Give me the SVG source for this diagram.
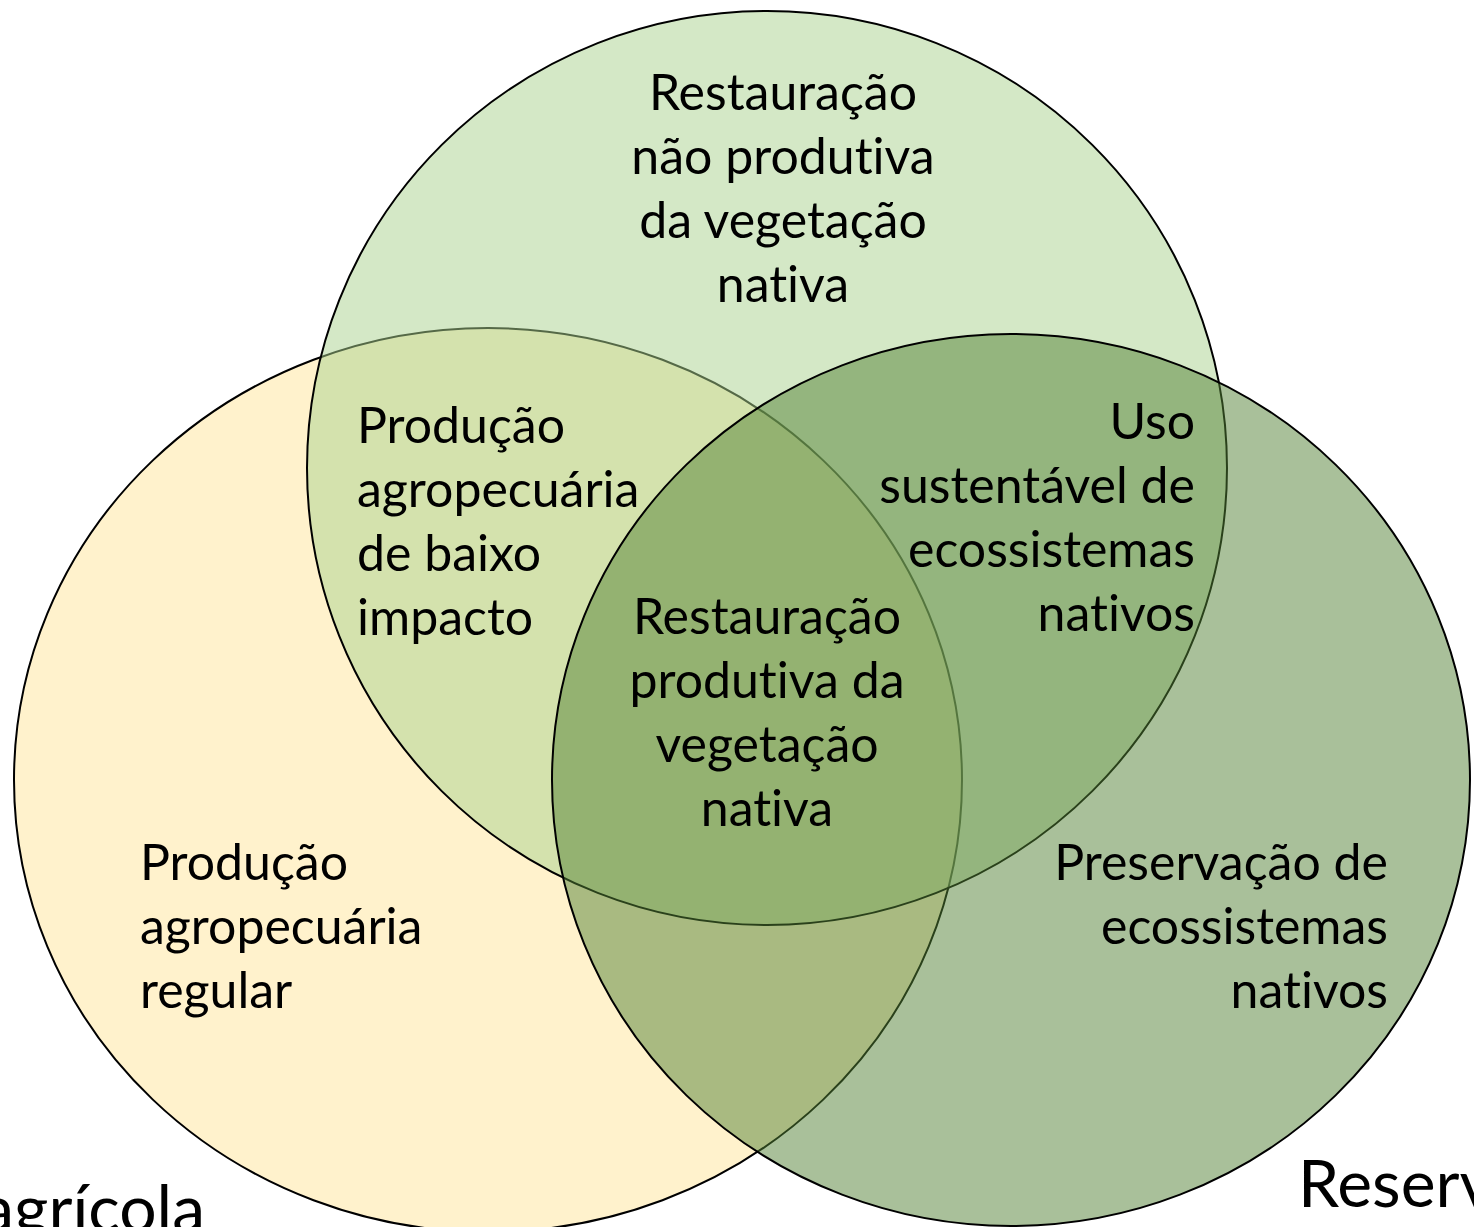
<svg xmlns="http://www.w3.org/2000/svg" width="1474" height="1227" viewBox="0 0 1474 1227">
<style>
.c{stroke:#000;stroke-width:2}
.t{font-family:Lato,"Liberation Sans",sans-serif;font-size:50px;fill:#000;font-variant-ligatures:none}
.big{font-family:Lato,"Liberation Sans",sans-serif;font-size:66px;fill:#000;font-variant-ligatures:none}
.m{text-anchor:middle}
.e{text-anchor:end}
</style>
<rect width="1474" height="1227" fill="#fff"/>
<g id="circle-agricola">
<ellipse class="c" cx="488" cy="780" rx="474" ry="452" fill="#FFF2CC"/>
</g>
<g id="circle-restauracao">
<ellipse class="c" cx="767" cy="468" rx="460" ry="457" fill="#A9D18E" fill-opacity="0.5"/>
</g>
<g id="circle-reserva">
<ellipse class="c" cx="1011" cy="780" rx="459" ry="446" fill="#548235" fill-opacity="0.5"/>
</g>
<g id="label-top" class="t m">
<text x="783" y="110">Restauração</text>
<text x="783" y="174">não produtiva</text>
<text x="783" y="238">da vegetação</text>
<text x="783" y="302">nativa</text>
</g>
<g id="label-top-left" class="t">
<text x="357" y="443">Produção</text>
<text x="357" y="507">agropecuária</text>
<text x="357" y="571">de baixo</text>
<text x="357" y="635">impacto</text>
</g>
<g id="label-top-right" class="t e">
<text x="1195" y="439">Uso</text>
<text x="1195" y="503">sustentável de</text>
<text x="1195" y="567">ecossistemas</text>
<text x="1195" y="631">nativos</text>
</g>
<g id="label-center" class="t m">
<text x="767" y="634">Restauração</text>
<text x="767" y="698">produtiva da</text>
<text x="767" y="762">vegetação</text>
<text x="767" y="826">nativa</text>
</g>
<g id="label-bottom-left" class="t">
<text x="140" y="880">Produção</text>
<text x="140" y="944">agropecuária</text>
<text x="140" y="1008">regular</text>
</g>
<g id="label-bottom-right" class="t e">
<text x="1388" y="880">Preservação de</text>
<text x="1388" y="944">ecossistemas</text>
<text x="1388" y="1008">nativos</text>
</g>
<g id="label-agricola">
<text class="big e" x="205" y="1232">agrícola</text>
</g>
<g id="label-reserva">
<text class="big" x="1298" y="1207">Reserv</text>
</g>
</svg>
